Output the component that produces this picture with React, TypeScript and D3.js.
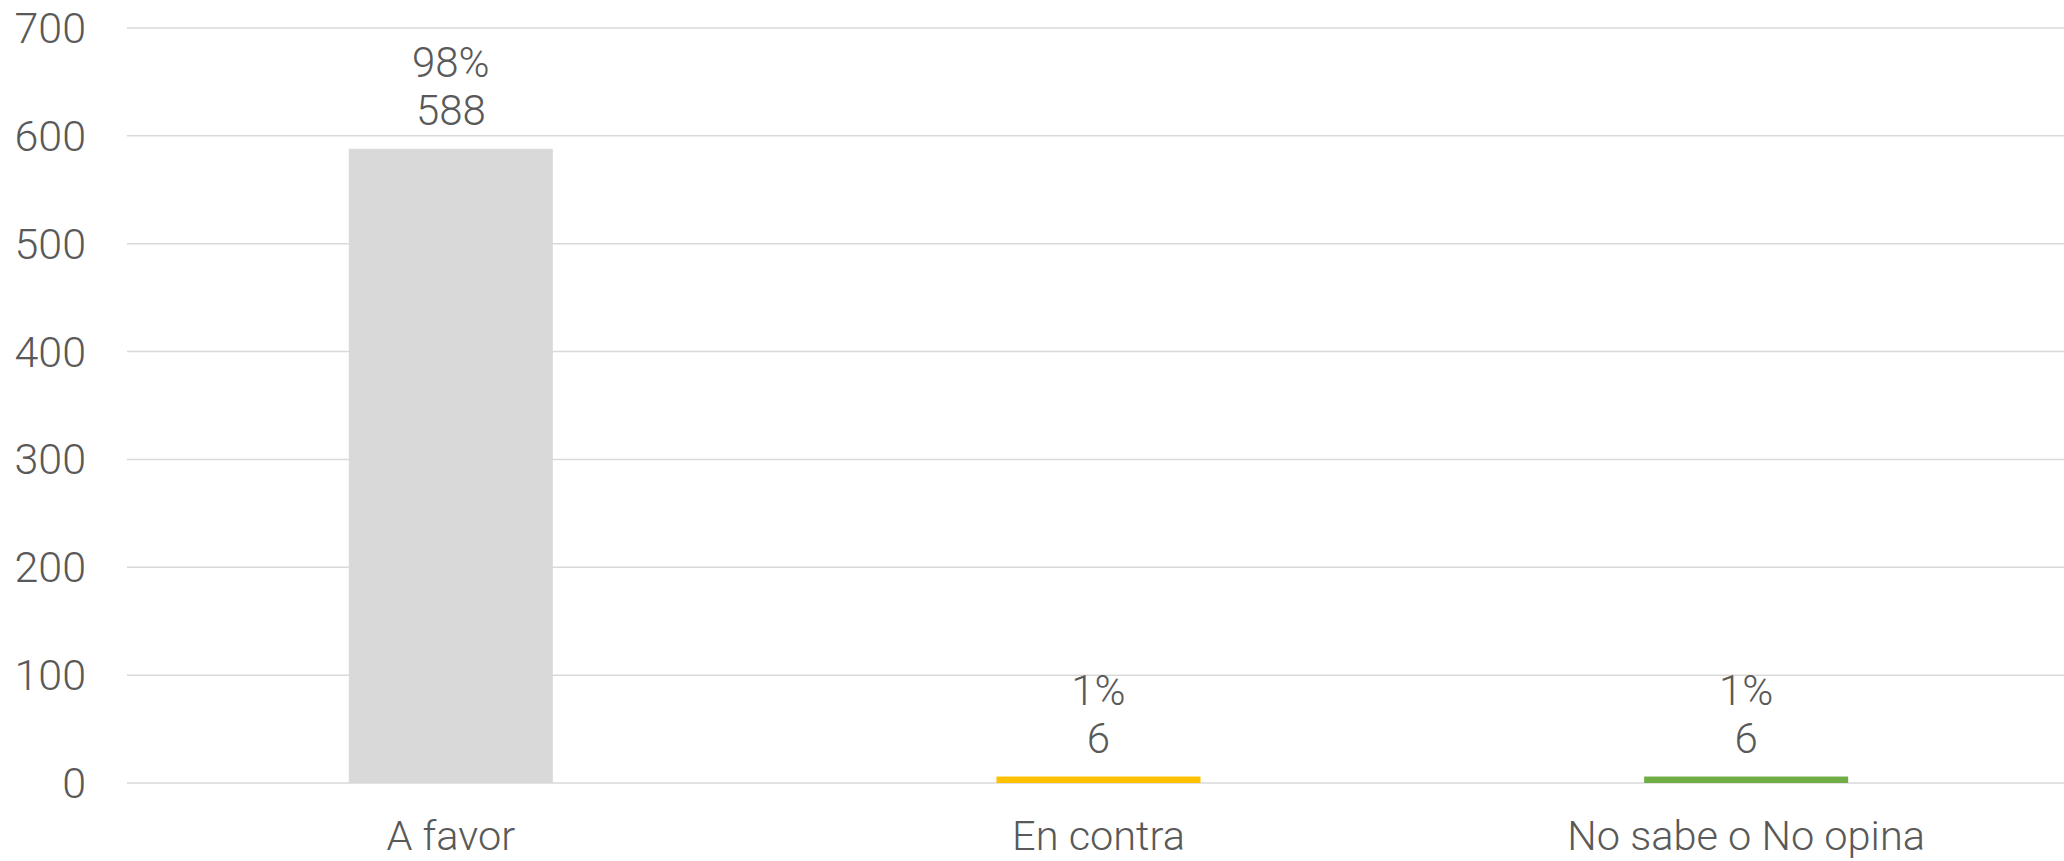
import React from 'react';
import { scaleBand, scaleLinear, range } from 'd3';

const categories = ['A favor', 'En contra', 'No sabe o No opina'];
const counts = [588, 6, 6];
const percents = ['98%', '1%', '1%'];
const barColors = ['#D9D9D9', '#FFC000', '#70AD47'];
const yTicks = [0, 100, 200, 300, 400, 500, 600, 700];

const W = 2064;
const H = 861;
const margin = { top: 28, right: -6, bottom: 78, left: 127 };
const font = 'Roboto, "Liberation Sans", Arial, sans-serif';
const textColor = '#595959';

export default function App() {
  const x = scaleBand<string>()
    .domain(categories)
    .range([margin.left, W - margin.right])
    .paddingInner(0.685)
    .paddingOuter(0.3425);
  const y = scaleLinear().domain([0, 700]).range([H - margin.bottom, margin.top]);

  return (
    <svg
      width={W}
      height={H}
      style={{ position: 'absolute', left: 0, top: 0, display: 'block', background: '#fff' }}
      fontFamily={font}
      fontWeight={300}
    >
      {/* grid lines + y labels */}
      {yTicks.map(t => (
        <g key={t}>
          <line x1={margin.left} x2={W} y1={y(t)} y2={y(t)} stroke="#D9D9D9" strokeWidth={1.5} />
          <text x={86} y={y(t)} textAnchor="end" dominantBaseline="central" fontSize={43} fill={textColor}>
            {t}
          </text>
        </g>
      ))}

      {range(categories.length).map(i => {
        const c = categories[i];
        const bx = x(c) as number;
        const cx = bx + x.bandwidth() / 2;
        const top = y(counts[i]);
        return (
          <g key={c}>
            <rect x={bx} y={top} width={x.bandwidth()} height={y(0) - top} fill={barColors[i]} />
            <text x={cx} y={top - 24} textAnchor="middle" fontSize={42} fill={textColor}>
              {counts[i]}
            </text>
            <text x={cx} y={top - 72} textAnchor="middle" fontSize={42} fill={textColor}>
              {percents[i]}
            </text>
            <text x={cx} y={850} textAnchor="middle" fontSize={41.5} fill={textColor}>
              {c}
            </text>
          </g>
        );
      })}
    </svg>
  );
}
